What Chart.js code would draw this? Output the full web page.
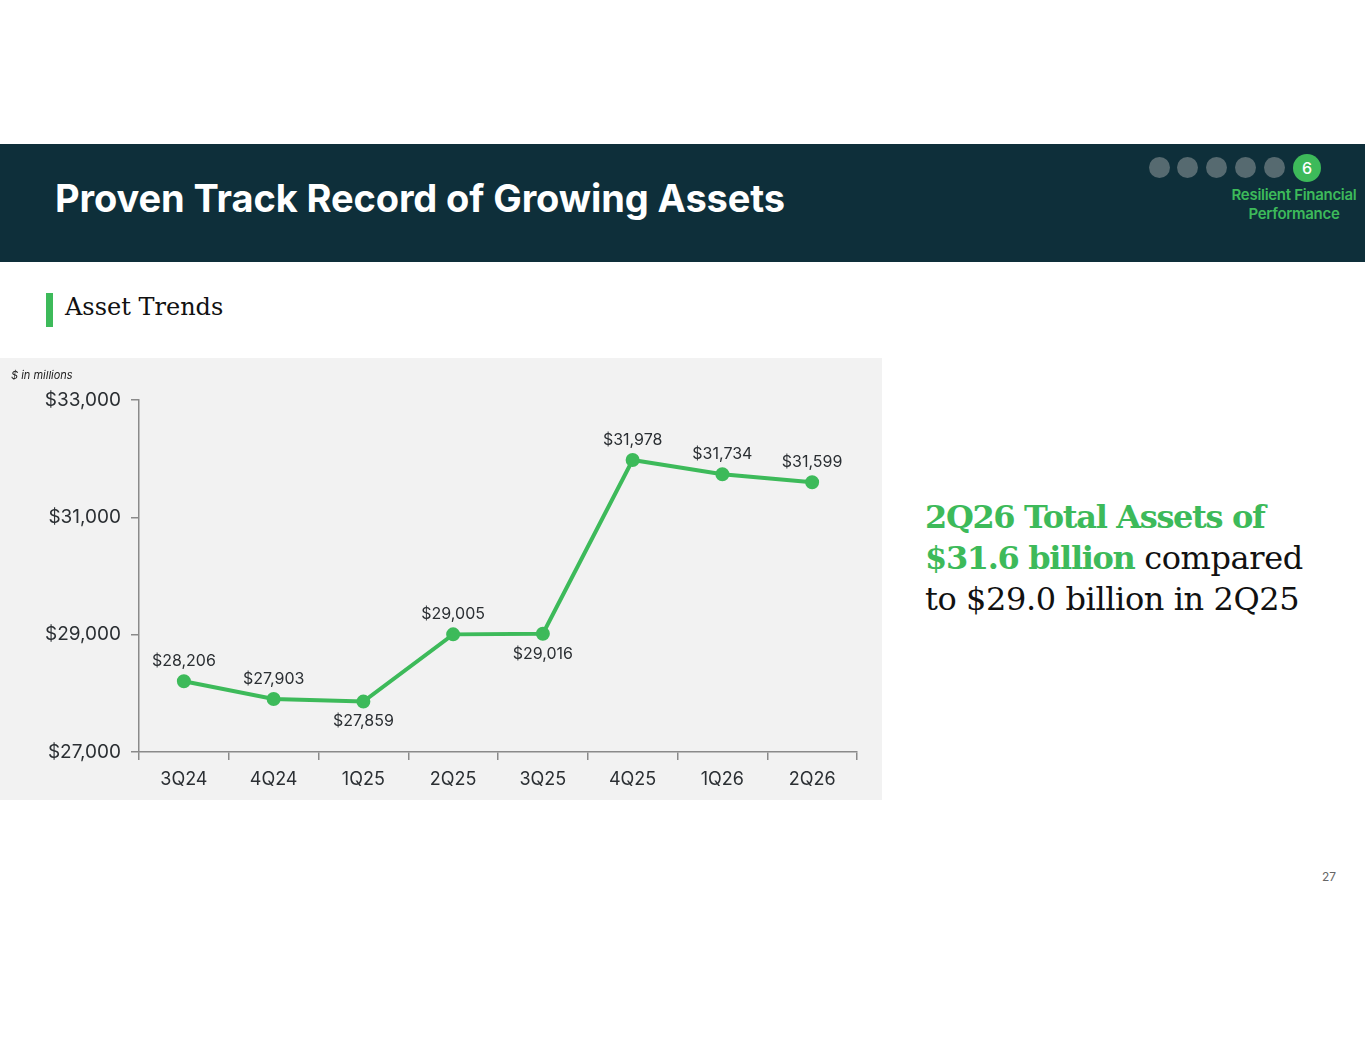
<!DOCTYPE html>
<html>
<head>
<meta charset="utf-8">
<script src="https://cdn.jsdelivr.net/npm/chart.js@4/dist/chart.umd.min.js"></script>
<style>
  html, body { margin: 0; padding: 0; background: #ffffff; }
  body { width: 1365px; height: 1055px; position: relative; overflow: hidden; font-family: Inter, "Noto Sans", sans-serif; }
  .header { position: absolute; left: 0; top: 144px; width: 1365px; height: 118px; background: #0e2f3a; }
  .title { position: absolute; left: 55px; top: 175px; color: #ffffff; font-family: Inter, sans-serif; font-weight: 700; font-size: 38px; letter-spacing: -0.1px; }
  .dot { position: absolute; top: 157px; width: 21px; height: 21px; border-radius: 50%; background: #566a70; }
  .dot.g { background: #3dba5a; color: #fff; font-size: 16px; font-weight: 500; text-align: center; width: 28px; height: 28px; line-height: 28px; top: 154px; }
  .section { position: absolute; left: 1220px; top: 185px; width: 148px; text-align: center; color: #3dba5a; font-size: 15px; font-weight: 600; line-height: 19px; letter-spacing: -0.3px; }
  .bar { position: absolute; left: 46px; top: 293px; width: 7px; height: 34px; background: #3dba5a; }
  .sub { position: absolute; left: 65px; top: 293px; font-family: "DejaVu Serif", serif; font-size: 24px; color: #111; }
  .panel { position: absolute; left: 0; top: 358px; width: 882px; height: 442px; background: #f2f2f2; }
  .units { position: absolute; left: 11px; top: 368px; font-size: 11px; font-style: italic; color: #222; }
  .note { position: absolute; left: 925px; top: 497px; font-family: "DejaVu Serif", serif; font-size: 32px; line-height: 41px; color: #111; letter-spacing: -0.4px; }
  .note b { color: #3dba5a; letter-spacing: -1.35px; }
  .page { position: absolute; left: 1322px; top: 869px; font-size: 12px; color: #666; }
  #wrap { position: absolute; left: 0; top: 358px; width: 882px; height: 442px; }
</style>
</head>
<body>
<div class="header"></div>
<div class="title">Proven Track Record of Growing Assets</div>
<div class="dot" style="left:1149px"></div>
<div class="dot" style="left:1177px"></div>
<div class="dot" style="left:1206px"></div>
<div class="dot" style="left:1235px"></div>
<div class="dot" style="left:1264px"></div>
<div class="dot g" style="left:1293px">6</div>
<div class="section">Resilient Financial<br>Performance</div>
<div class="bar"></div>
<div class="sub">Asset Trends</div>
<div class="panel"></div>
<div id="wrap"><canvas id="c"></canvas></div>
<div class="units">$ in millions</div>
<div class="note"><b>2Q26 Total Assets of<br>$31.6 billion</b> compared<br>to $29.0 billion in 2Q25</div>
<div class="page">27</div>
<script>
const categories = ["3Q24", "4Q24", "1Q25", "2Q25", "3Q25", "4Q25", "1Q26", "2Q26"];
const totalAssets = [28206, 27903, 27859, 29005, 29016, 31978, 31734, 31599];
const labelBelow = [false, false, true, false, true, false, false, false];
const yTickValues = [27000, 29000, 31000, 33000];

const fmt = v => "$" + v.toLocaleString("en-US");

const labelPlugin = {
  id: "valueLabels",
  afterDatasetsDraw(chart) {
    const ctx = chart.ctx;
    const meta = chart.getDatasetMeta(0);
    ctx.save();
    ctx.font = "16px Inter, sans-serif";
    ctx.fillStyle = "#2b2f33";
    ctx.textAlign = "center";
    ctx.textBaseline = "middle";
    meta.data.forEach((pt, i) => {
      const dy = labelBelow[i] ? 20 : -20;
      ctx.fillText(fmt(totalAssets[i]), pt.x, pt.y + dy);
    });
    ctx.restore();
  }
};

new Chart(document.getElementById("c"), {
  type: "line",
  data: {
    labels: categories,
    datasets: [{
      data: totalAssets,
      borderColor: "#3dba5a",
      backgroundColor: "#3dba5a",
      borderWidth: 4,
      pointRadius: 5,
      pointHoverRadius: 5,
      tension: 0
    }]
  },
  options: {
    responsive: true,
    maintainAspectRatio: false,
    animation: false,
    layout: { padding: { top: 42, right: 25, left: 0, bottom: 0 } },
    plugins: { legend: { display: false }, tooltip: { enabled: false } },
    scales: {
      x: {
        offset: true,
        grid: { display: true, drawOnChartArea: false, drawTicks: true, tickLength: 8, color: "#8a8a8a", offset: true, lineWidth: 1.5 },
        border: { color: "#8a8a8a", width: 1.5 },
        ticks: { color: "#2b2f33", font: { family: "Inter", size: 18 }, padding: 9 },
        afterFit(s) { s.height = 48; }
      },
      y: {
        min: 27000, max: 33000,
        afterBuildTicks(s) { s.ticks = yTickValues.map(v => ({ value: v })); },
        grid: { display: true, drawOnChartArea: false, drawTicks: true, tickLength: 8, color: "#8a8a8a", lineWidth: 1.5 },
        border: { color: "#8a8a8a", width: 1.5 },
        ticks: { color: "#2b2f33", font: { family: "Inter", size: 19 }, padding: 10, callback: v => fmt(v) },
        afterFit(s) { s.width = 139; }
      }
    }
  },
  plugins: [labelPlugin]
});
</script>
</body>
</html>
